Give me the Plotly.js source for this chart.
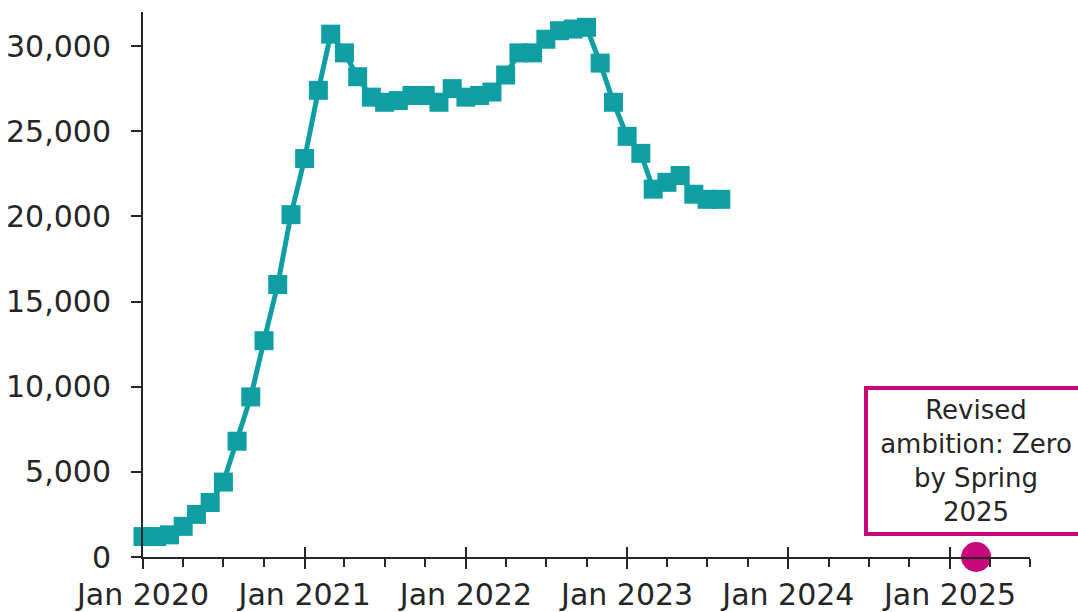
<!DOCTYPE html>
<html>
<head>
<meta charset="utf-8">
<script src="https://cdn.plot.ly/plotly-3.0.1.min.js"></script>
<style>html,body{margin:0;padding:0;background:#fff;}#chart{width:1078px;height:612px;}</style>
</head>
<body>
<div id="chart"></div>
<script>
// Monthly values, Jan 2020 – Aug 2023
const months = [
  "2020-01-01","2020-02-01","2020-03-01","2020-04-01","2020-05-01","2020-06-01",
  "2020-07-01","2020-08-01","2020-09-01","2020-10-01","2020-11-01","2020-12-01",
  "2021-01-01","2021-02-01","2021-03-01","2021-04-01","2021-05-01","2021-06-01",
  "2021-07-01","2021-08-01","2021-09-01","2021-10-01","2021-11-01","2021-12-01",
  "2022-01-01","2022-02-01","2022-03-01","2022-04-01","2022-05-01","2022-06-01",
  "2022-07-01","2022-08-01","2022-09-01","2022-10-01","2022-11-01","2022-12-01",
  "2023-01-01","2023-02-01","2023-03-01","2023-04-01","2023-05-01","2023-06-01",
  "2023-07-01","2023-08-01"
];
const values = [
  1200, 1200, 1300, 1800, 2500, 3200,
  4400, 6800, 9400, 12700, 16000, 20100,
  23400, 27400, 30700, 29600, 28200, 27000,
  26700, 26800, 27100, 27100, 26700, 27500,
  27000, 27100, 27300, 28300, 29600, 29600,
  30400, 30900, 31000, 31100, 29000, 26700,
  24700, 23700, 21600, 22000, 22400, 21300,
  21000, 21000
];
const targetDate = ["2025-03-01"];
const targetValue = [0];
const targetLabel = "Revised<br>ambition: Zero<br>by Spring<br>2025";

const teal = "#0F9FA3";
const pink = "#C8077A";
const ink = "#262626";
const fontFam = "'DejaVu Sans', sans-serif";
const xRange = ["2020-01-01", "2025-07-01"];

const traces = [
  {
    x: months, y: values, type: "scatter", mode: "lines+markers",
    line: {color: teal, width: 5},
    marker: {symbol: "square", size: 19, color: teal},
    cliponaxis: false, hoverinfo: "skip"
  },
  {
    x: targetDate, y: targetValue, type: "scatter", mode: "markers",
    xaxis: "x2", yaxis: "y",
    marker: {symbol: "circle", size: 30, color: pink},
    cliponaxis: false, hoverinfo: "skip"
  }
];

const layout = {
  width: 1078, height: 612,
  margin: {l: 143, r: 48, t: 12, b: 55},
  paper_bgcolor: "#fff", plot_bgcolor: "#fff",
  showlegend: false,
  font: {family: fontFam, size: 30, color: ink},
  xaxis: {
    type: "date",
    range: xRange,
    tick0: "2020-01-01", dtick: "M12", tickformat: "%b %Y",
    ticks: "outside", ticklen: 10, tickwidth: 2, tickcolor: ink,
    minor: {dtick: "M3", ticks: "outside", ticklen: 8, tickwidth: 2, tickcolor: ink, showgrid: false},
    showline: true, linecolor: ink, linewidth: 2,
    showgrid: false, zeroline: false,
    tickfont: {family: fontFam, size: 30, color: ink}
  },
  xaxis2: {
    type: "date", overlaying: "x", anchor: "y", side: "bottom",
    range: xRange,
    tick0: "2020-01-01", dtick: "M12",
    ticks: "inside", ticklen: 10, tickwidth: 2, tickcolor: ink,
    showticklabels: false, showline: false, showgrid: false, zeroline: false
  },
  yaxis: {
    range: [0, 32000],
    tickvals: [0, 5000, 10000, 15000, 20000, 25000, 30000],
    tickformat: ",",
    ticks: "outside", ticklen: 10, tickwidth: 2, tickcolor: ink,
    ticklabelstandoff: 14,
    showline: true, linecolor: ink, linewidth: 2,
    showgrid: false, zeroline: false,
    tickfont: {family: fontFam, size: 30, color: ink}
  },
  annotations: [{
    x: targetDate[0], y: 1250, xref: "x", yref: "y",
    xanchor: "center", yanchor: "bottom",
    text: targetLabel, showarrow: false, align: "center",
    font: {family: fontFam, size: 26, color: ink},
    bgcolor: "#fff", bordercolor: pink, borderwidth: 4,
    borderpad: 2, width: 212, height: 138
  }]
};

Plotly.newPlot("chart", traces, layout, {staticPlot: true, displayModeBar: false});
</script>
</body>
</html>
